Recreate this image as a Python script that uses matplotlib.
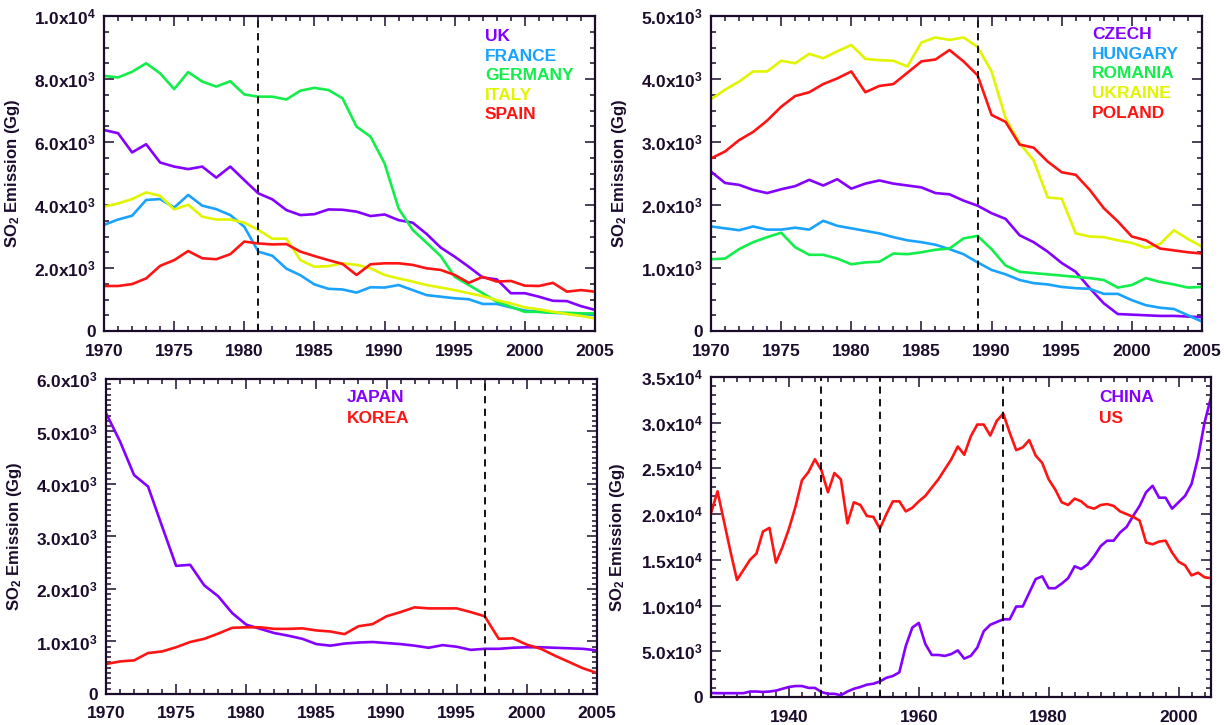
import numpy as np
import matplotlib
matplotlib.use('Agg')
import matplotlib.pyplot as plt
from matplotlib.ticker import MultipleLocator, FuncFormatter

plt.rcParams['font.family'] = ['Liberation Sans', 'DejaVu Sans']
plt.rcParams['font.weight'] = 'bold'
plt.rcParams['mathtext.fontset'] = 'custom'
plt.rcParams['mathtext.rm'] = 'Liberation Sans:bold'
plt.rcParams['mathtext.it'] = 'Liberation Sans:bold'
plt.rcParams['mathtext.bf'] = 'Liberation Sans:bold'

# colours
PURPLE = '#8400ff'
BLUE = '#1aa2ff'
GREEN = '#12ee4a'
YELLOW = '#e2f500'
RED = '#ff1414'
INK = '#1c0c2c'

# ---- Western Europe, 1970-2005 ----
years_a = list(range(1970, 2006))
uk = [6380, 6280, 5670, 5930, 5350, 5220, 5140, 5220, 4870, 5220, 4790, 4370, 4180, 3840, 3680,
      3710, 3860, 3850, 3790, 3650, 3700, 3520, 3440, 3080, 2650, 2360, 2040, 1700, 1640, 1200,
      1200, 1090, 960, 950, 790, 670]
france = [3370, 3540, 3660, 4160, 4190, 3920, 4320, 3980, 3870, 3680, 3310, 2520, 2390, 1980, 1770,
          1480, 1340, 1320, 1220, 1390, 1380, 1460, 1300, 1140, 1090, 1040, 1010, 860, 860, 750,
          650, 610, 580, 560, 540, 510]
germany = [8100, 8050, 8230, 8500, 8180, 7680, 8220, 7920, 7760, 7930, 7510, 7440, 7440, 7350, 7630,
           7720, 7650, 7390, 6490, 6170, 5320, 3890, 3210, 2800, 2380, 1720, 1460, 1200, 930, 770,
           610, 610, 580, 580, 560, 560]
italy = [3950, 4050, 4190, 4400, 4290, 3860, 4010, 3630, 3540, 3540, 3440, 3210, 2930, 2930, 2250,
         2040, 2060, 2150, 2100, 1990, 1780, 1670, 1570, 1460, 1380, 1300, 1200, 1110, 980, 880,
         750, 690, 610, 540, 480, 400]
spain = [1430, 1430, 1490, 1670, 2070, 2250, 2540, 2310, 2280, 2440, 2840, 2780, 2750, 2760, 2520,
         2380, 2250, 2130, 1780, 2120, 2150, 2150, 2100, 1990, 1940, 1780, 1530, 1720, 1570, 1590,
         1440, 1430, 1530, 1250, 1300, 1250]

# ---- Eastern Europe, 1970-2005 ----
czech = [2530, 2350, 2320, 2240, 2190, 2250, 2300, 2400, 2310, 2410, 2260, 2340, 2390, 2340, 2310,
         2280, 2190, 2170, 2070, 1990, 1870, 1780, 1520, 1410, 1260, 1080, 940, 680, 440, 270,
         260, 250, 240, 240, 230, 220]
hungary = [1660, 1630, 1600, 1660, 1610, 1610, 1640, 1610, 1750, 1670, 1630, 1590, 1550, 1490, 1440,
           1410, 1370, 1300, 1220, 1090, 970, 900, 810, 760, 740, 700, 680, 670, 590, 590,
           490, 410, 370, 350, 250, 150]
romania = [1140, 1150, 1300, 1410, 1490, 1560, 1330, 1210, 1210, 1150, 1060, 1090, 1100, 1230, 1220,
           1250, 1290, 1310, 1470, 1510, 1300, 1040, 940, 920, 900, 880, 860, 840, 810, 690,
           730, 840, 780, 740, 690, 700]
ukraine = [3680, 3830, 3960, 4120, 4120, 4290, 4250, 4400, 4330, 4440, 4540, 4320, 4300, 4290, 4200,
           4580, 4660, 4620, 4660, 4510, 4120, 3380, 2980, 2710, 2120, 2100, 1550, 1500, 1490, 1440,
           1400, 1320, 1380, 1600, 1460, 1340]
poland = [2740, 2850, 3030, 3160, 3340, 3560, 3730, 3790, 3920, 4010, 4120, 3790, 3890, 3920, 4100,
          4280, 4310, 4460, 4280, 4060, 3430, 3320, 2960, 2910, 2690, 2520, 2480, 2240, 1950, 1740,
          1500, 1440, 1310, 1280, 1250, 1230]

# ---- East Asia, 1970-2005 ----
japan = [5350, 4810, 4170, 3950, 3190, 2440, 2460, 2070, 1860, 1540, 1320, 1240, 1160, 1110, 1050,
         950, 920, 960, 980, 990, 970, 950, 920, 880, 930, 900, 840, 860, 860, 880,
         890, 890, 880, 870, 860, 830]
korea = [570, 620, 640, 780, 810, 890, 990, 1050, 1150, 1260, 1270, 1270, 1240, 1240, 1250,
         1210, 1190, 1140, 1290, 1330, 1480, 1560, 1650, 1630, 1630, 1630, 1560, 1480, 1050, 1060,
         940, 860, 730, 610, 490, 400]

# ---- China and US, 1928-2005 ----
years_d = list(range(1928, 2006))
china = [440, 420, 420, 420, 420, 420, 600, 600, 550, 600, 700, 900, 1100, 1200, 1200, 1000,
         1000, 550, 350, 350, 200, 600, 900, 1100, 1350, 1450, 1700, 2100, 2300, 2700, 5600, 7600,
         8100, 5800, 4600, 4600, 4500, 4700, 5100, 4200, 4500, 5400, 7200, 7900, 8200, 8500, 8500, 9900,
         9900, 11400, 12900, 13200, 11900, 11900, 12400, 13000, 14300, 14000, 14500, 15400, 16500, 17100,
         17100, 18000, 18600, 19800, 20900, 22400, 23100, 21800, 21800, 20600, 21300, 22000, 23300,
         26200, 30000, 32800]
us = [20100, 22500, 19200, 15900, 12800, 13900, 15000, 15700, 18100, 18500, 14700, 16400, 18400, 20800,
      23700, 24600, 26000, 24800, 22400, 24500, 23800, 19000, 21300, 21000, 19800, 19700, 18400, 20000,
      21400, 21400, 20300, 20700, 21400, 22000, 22900, 23800, 24900, 26000, 27400, 26500, 28500, 29800,
      29800, 28600, 30200, 31000, 28900, 27000, 27300, 28100, 26400, 25600, 23800, 22700, 21300, 21000,
      21700, 21400, 20800, 20600, 21000, 21100, 20900, 20300, 20000, 19700, 19300, 16900, 16700, 17000,
      17100, 15800, 14800, 14400, 13300, 13600, 13100, 13000]


def sci(v, pos):
    if v < 1e-6:
        return '0' if abs(v) < 1e-6 else ''
    e = int(np.floor(np.log10(v) + 1e-9))
    return r'%.1fx10$^{%d}$' % (v / 10 ** e, e)


def style(ax, xlim, xmaj, xmin, ylim, ymaj, ymin):
    ax.set_xlim(*xlim)
    ax.set_ylim(*ylim)
    ax.xaxis.set_major_locator(MultipleLocator(xmaj))
    ax.xaxis.set_minor_locator(MultipleLocator(xmin))
    ax.yaxis.set_major_locator(MultipleLocator(ymaj))
    ax.yaxis.set_minor_locator(MultipleLocator(ymin))
    ax.yaxis.set_major_formatter(FuncFormatter(sci))
    ax.tick_params(which='both', direction='in', top=True, right=True, color=INK,
                   width=1.1, labelcolor=INK, labelsize=12.5)
    ax.tick_params(which='major', length=7, pad=6)
    ax.tick_params(axis='x', which='major', pad=9)
    ax.tick_params(which='minor', length=3.5)
    for s in ax.spines.values():
        s.set_color(INK)
        s.set_linewidth(1.6)
    ax.set_ylabel(r'SO$_2$ Emission (Gg)', fontsize=12, fontweight='bold', color=INK)
    ax.yaxis.set_label_coords(-0.168, 0.5)


def legend(ax, names, colors, x, y, step):
    for i, (n, c) in enumerate(zip(names, colors)):
        ax.text(x, y - i * step, n, color=c, fontsize=12.5, fontweight='bold',
                transform=ax.transAxes, va='center', ha='left')


fig = plt.figure(figsize=(12.24, 7.25), dpi=100)
ax1 = fig.add_axes([0.085, 0.5434, 0.4011, 0.4345])
ax2 = fig.add_axes([0.5809, 0.5434, 0.4011, 0.4345])
ax3 = fig.add_axes([0.0866, 0.0428, 0.4011, 0.4345])
ax4 = fig.add_axes([0.5809, 0.0386, 0.4085, 0.4414])

lw = 1.9

# top left
for vals, c in zip([uk, france, germany, italy, spain], [PURPLE, BLUE, GREEN, YELLOW, RED]):
    ax1.plot(years_a, vals, color=c, lw=lw)
ax1.axvline(1981, color='black', ls=(0, (4, 3)), lw=1.3)
style(ax1, (1970, 2005), 5, 1, (0, 10000), 2000, 500)
legend(ax1, ['UK', 'FRANCE', 'GERMANY', 'ITALY', 'SPAIN'],
       [PURPLE, BLUE, GREEN, YELLOW, RED], 0.776, 0.935, 0.062)

# top right
for vals, c in zip([czech, hungary, romania, ukraine, poland], [PURPLE, BLUE, GREEN, YELLOW, RED]):
    ax2.plot(years_a, vals, color=c, lw=lw)
ax2.axvline(1989, color='black', ls=(0, (4, 3)), lw=1.3)
style(ax2, (1970, 2005), 5, 1, (0, 5000), 1000, 250)
legend(ax2, ['CZECH', 'HUNGARY', 'ROMANIA', 'UKRAINE', 'POLAND'],
       [PURPLE, BLUE, GREEN, YELLOW, RED], 0.776, 0.94, 0.062)

# bottom left
ax3.plot(years_a, japan, color=PURPLE, lw=lw)
ax3.plot(years_a, korea, color=RED, lw=lw)
ax3.axvline(1997, color='black', ls=(0, (4, 3)), lw=1.3)
style(ax3, (1970, 2005), 5, 1, (0, 6000), 1000, 100)
legend(ax3, ['JAPAN', 'KOREA'], [PURPLE, RED], 0.491, 0.94, 0.064)

# bottom right
ax4.plot(years_d, china, color=PURPLE, lw=lw)
ax4.plot(years_d, us, color=RED, lw=lw)
for yr in [1945, 1954, 1973]:
    ax4.axvline(yr, color='black', ls=(0, (4, 3)), lw=1.3)
style(ax4, (1928, 2005), 20, 2, (0, 35000), 5000, 1000)
ax4.yaxis.set_label_coords(-0.168, 0.5)
legend(ax4, ['CHINA', 'US'], [PURPLE, RED], 0.776, 0.935, 0.065)

fig.savefig('out.png', dpi=100)
